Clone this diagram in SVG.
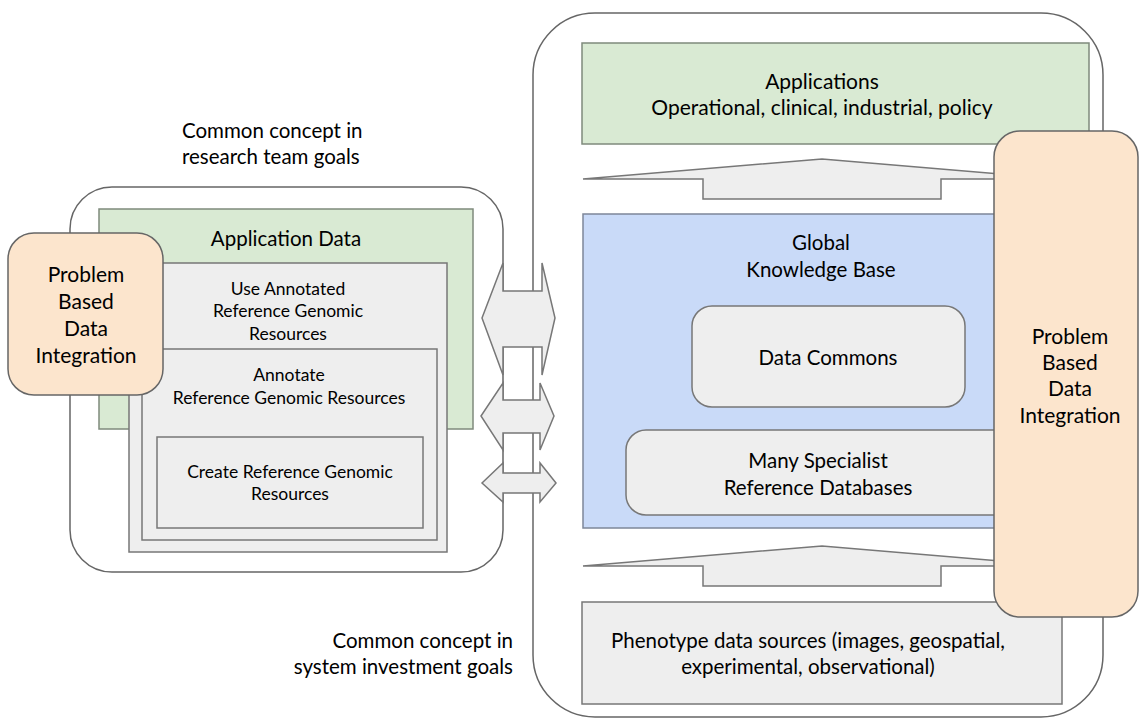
<svg xmlns="http://www.w3.org/2000/svg" width="1140" height="719" viewBox="0 0 1140 719">
<style>
text{font-family:Lato,"Liberation Sans",sans-serif;fill:#000;text-anchor:middle}
.t21{font-size:21px}
.t20{font-size:20.5px}
.t17{font-size:17.5px}
.outer{fill:#fff;stroke:#666;stroke-width:1.5}
.green{fill:#d9ead3;stroke:#7f8a7c;stroke-width:1.5}
.gray{fill:#eeeeee;stroke:#777;stroke-width:1.5}
.blue{fill:#c9daf8;stroke:#7d8799;stroke-width:1.5}
.orange{fill:#fce5cd;stroke:#666;stroke-width:1.5}
.arrow{fill:#eeeeee;stroke:#777;stroke-width:1.5;stroke-linejoin:miter}
</style>
<rect width="1140" height="719" fill="#fff"/>

<g id="left-container">
<rect class="outer" x="70" y="187" width="433" height="385" rx="42"/>
</g>
<g id="right-container">
<rect class="outer" x="533" y="13" width="570" height="704" rx="62"/>
</g>

<g id="label-research">
<text class="t20" style="text-anchor:start" x="182" y="138">Common concept in</text>
<text class="t20" style="text-anchor:start" x="182" y="164">research team goals</text>
</g>
<g id="label-system">
<text class="t20" style="text-anchor:end" x="513" y="648">Common concept in</text>
<text class="t20" style="text-anchor:end" x="513" y="674">system investment goals</text>
</g>

<g id="application-data">
<rect class="green" x="99" y="209" width="374" height="220"/>
<text class="t20" x="286" y="246">Application Data</text>
</g>
<g id="use-annotated">
<rect class="gray" x="129" y="263" width="318" height="289"/>
<text class="t17" x="288" y="295">Use Annotated</text>
<text class="t17" x="288" y="317">Reference Genomic</text>
<text class="t17" x="288" y="340">Resources</text>
</g>
<g id="annotate">
<rect class="gray" x="142" y="349" width="295" height="191"/>
<text class="t17" x="289" y="381">Annotate</text>
<text class="t17" x="289" y="404">Reference Genomic Resources</text>
</g>
<g id="create">
<rect class="gray" x="157" y="437" width="266" height="91"/>
<text class="t17" x="290" y="478">Create Reference Genomic</text>
<text class="t17" x="290" y="500">Resources</text>
</g>
<g id="pbdi-left">
<rect class="orange" x="8" y="233" width="155" height="162" rx="26"/>
<text class="t21" x="86" y="282">Problem</text>
<text class="t21" x="86" y="309">Based</text>
<text class="t21" x="86" y="336">Data</text>
<text class="t21" x="86" y="363">Integration</text>
</g>

<g id="connectors">
<path class="arrow" d="M482,318 L503,263 L503,291 L542,291 L542,263 L555,318 L542,375 L542,347 L503,347 L503,375 Z"/>
<path class="arrow" d="M481,416 L503,383 L503,400 L540,400 L540,383 L554,416 L540,450 L540,433 L503,433 L503,450 Z"/>
<path class="arrow" d="M482,483 L503,463 L503,473 L540,473 L540,463 L556,483 L540,502 L540,493 L503,493 L503,502 Z"/>
<path class="arrow" d="M583,179 L822,159 L1061,179 L941,179 L941,199 L703,199 L703,179 Z"/>
<path class="arrow" d="M583,566 L822,546 L1061,566 L941,566 L941,586 L703,586 L703,566 Z"/>
</g>

<g id="applications">
<rect class="green" x="582" y="43" width="507" height="101"/>
<text class="t21" x="822" y="89">Applications</text>
<text class="t21" x="822" y="115">Operational, clinical, industrial, policy</text>
</g>
<g id="global-knowledge-base">
<rect class="blue" x="583" y="214" width="430" height="314"/>
<text class="t20" x="821" y="250">Global</text>
<text class="t20" x="821" y="277">Knowledge Base</text>
</g>
<g id="data-commons">
<rect class="gray" x="692" y="306" width="273" height="101" rx="20"/>
<text class="t20" x="828" y="365">Data Commons</text>
</g>
<g id="specialist-databases">
<rect class="gray" x="626" y="430" width="390" height="85" rx="20"/>
<text class="t20" x="818" y="468">Many Specialist</text>
<text class="t20" x="818" y="495">Reference Databases</text>
</g>
<g id="phenotype">
<rect class="gray" x="582" y="602" width="480" height="102"/>
<text class="t20" x="808" y="648">Phenotype data sources (images, geospatial,</text>
<text class="t20" x="808" y="674">experimental, observational)</text>
</g>
<g id="pbdi-right">
<rect class="orange" x="994" y="131" width="144" height="486" rx="26"/>
<text class="t21" x="1070" y="344">Problem</text>
<text class="t21" x="1070" y="370">Based</text>
<text class="t21" x="1070" y="396">Data</text>
<text class="t21" x="1070" y="423">Integration</text>
</g>
</svg>
